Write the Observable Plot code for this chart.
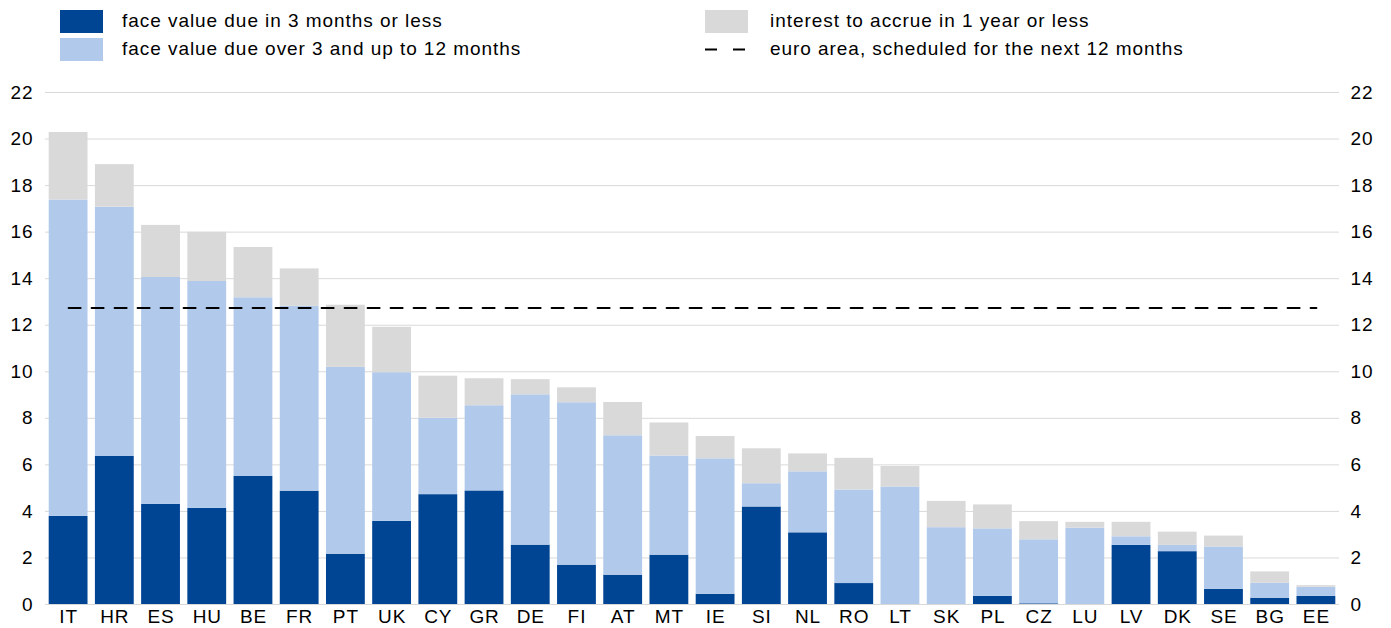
<!DOCTYPE html>
<html>
<head>
<meta charset="utf-8">
<script src="https://cdn.jsdelivr.net/npm/d3@7"></script>
<script src="https://cdn.jsdelivr.net/npm/@observablehq/plot@0.6"></script>
<style>
  html, body { margin: 0; padding: 0; background: #fff; }
  body { width: 1391px; height: 628px; overflow: hidden; font-family: "Liberation Sans", Arial, sans-serif; }
  #legend { position: relative; width: 1391px; height: 70px; font-size: 19px; letter-spacing: 0.95px; color: #000; }
  .sw { position: absolute; width: 43px; height: 23px; }
  .lt { position: absolute; line-height: 23px; white-space: nowrap; }
  #chart svg { display: block; }
</style>
</head>
<body>
<div id="legend"></div>
<div id="chart"></div>
<script>
// ---- data ----
const countries = ["IT","HR","ES","HU","BE","FR","PT","UK","CY","GR","DE","FI","AT","MT","IE","SI","NL","RO","LT","SK","PL","CZ","LU","LV","DK","SE","BG","EE"];
const dueUpTo3m  = [3.79,6.36,4.30,4.13,5.50,4.87,2.16,3.57,4.72,4.88,2.55,1.69,1.26,2.12,0.44,4.19,3.08,0.90,0.00,0.00,0.35,0.03,0.00,2.54,2.27,0.65,0.27,0.35];
const due3to12m  = [13.59,10.71,9.75,9.75,7.68,7.94,8.03,6.39,3.28,3.66,6.46,6.98,5.99,4.26,5.82,1.00,2.62,4.02,5.05,3.30,2.90,2.75,3.28,0.37,0.27,1.82,0.65,0.39];
const interest1y = [2.90,1.83,2.24,2.11,2.16,1.61,2.67,1.95,1.81,1.16,0.65,0.64,1.43,1.42,0.96,1.50,0.77,1.36,0.88,1.13,1.03,0.78,0.25,0.62,0.57,0.47,0.48,0.07];
const euroAreaScheduled = 12.74;
const seriesNames = ["face value due in 3 months or less","face value due over 3 and up to 12 months","interest to accrue in 1 year or less"];
const seriesColors = ["#004494","#b1c9ea","#d9d9d9"];
const lineLabel = "euro area, scheduled for the next 12 months";
const yTicks = [0,2,4,6,8,10,12,14,16,18,20,22];

// ---- table for Plot ----
const seriesValues = [dueUpTo3m, due3to12m, interest1y];
const table = [];
seriesNames.forEach((s, si) => countries.forEach((c, ci) => table.push({country: c, series: s, value: seriesValues[si][ci]})));

// ---- legend ----
const legend = document.getElementById("legend");
function addSwatch(x, y, color) {
  const d = document.createElement("div"); d.className = "sw";
  d.style.left = x + "px"; d.style.top = y + "px"; d.style.background = color;
  legend.appendChild(d);
}
function addText(x, y, t) {
  const d = document.createElement("div"); d.className = "lt";
  d.style.left = x + "px"; d.style.top = y + "px"; d.textContent = t;
  legend.appendChild(d);
}
addSwatch(60, 10, seriesColors[0]); addText(122, 9, seriesNames[0]);
addSwatch(60, 38, seriesColors[1]); addText(122, 37, seriesNames[1]);
addSwatch(705, 10, seriesColors[2]); addText(770, 9, seriesNames[2]);
const dash = document.createElementNS("http://www.w3.org/2000/svg", "svg");
dash.setAttribute("width", 43); dash.setAttribute("height", 23);
dash.style.position = "absolute"; dash.style.left = "705px"; dash.style.top = "38px";
dash.innerHTML = '<line x1="0" x2="43" y1="11.5" y2="11.5" stroke="#000" stroke-width="2" stroke-dasharray="12,16"/>';
legend.appendChild(dash);
addText(770, 37, lineLabel);

// ---- chart ----
const chart = Plot.plot({
  width: 1391,
  height: 558,
  marginTop: 22,
  marginBottom: 24,
  marginLeft: 45,
  marginRight: 52,
  style: {fontFamily: '"Liberation Sans", Arial, sans-serif', fontSize: "19px", letterSpacing: "0.9px", color: "#000", background: "#fff"},
  x: {domain: countries, paddingInner: 0.16, paddingOuter: 0.08, round: false, label: null},
  y: {domain: [0, 22], label: null},
  color: {domain: seriesNames, range: seriesColors},
  marks: [
    Plot.gridY(yTicks, {stroke: "#d9d9d9", strokeOpacity: 1, strokeWidth: 1}),
    Plot.barY(table, {x: "country", y: "value", fill: "series", order: seriesNames}),
    Plot.lineY(countries, {x: d => d, y: () => euroAreaScheduled, stroke: "#000", strokeWidth: 2, strokeDasharray: "12,11"}),
    Plot.axisY(yTicks, {anchor: "left", tickSize: 0, tickPadding: 12, label: null, fill: "#000"}),
    Plot.axisY(yTicks, {anchor: "right", tickSize: 0, tickPadding: 11, label: null, fill: "#000"}),
    Plot.axisX({tickSize: 0, tickPadding: 5, label: null, fill: "#000"})
  ]
});
document.getElementById("chart").appendChild(chart);
</script>
</body>
</html>
